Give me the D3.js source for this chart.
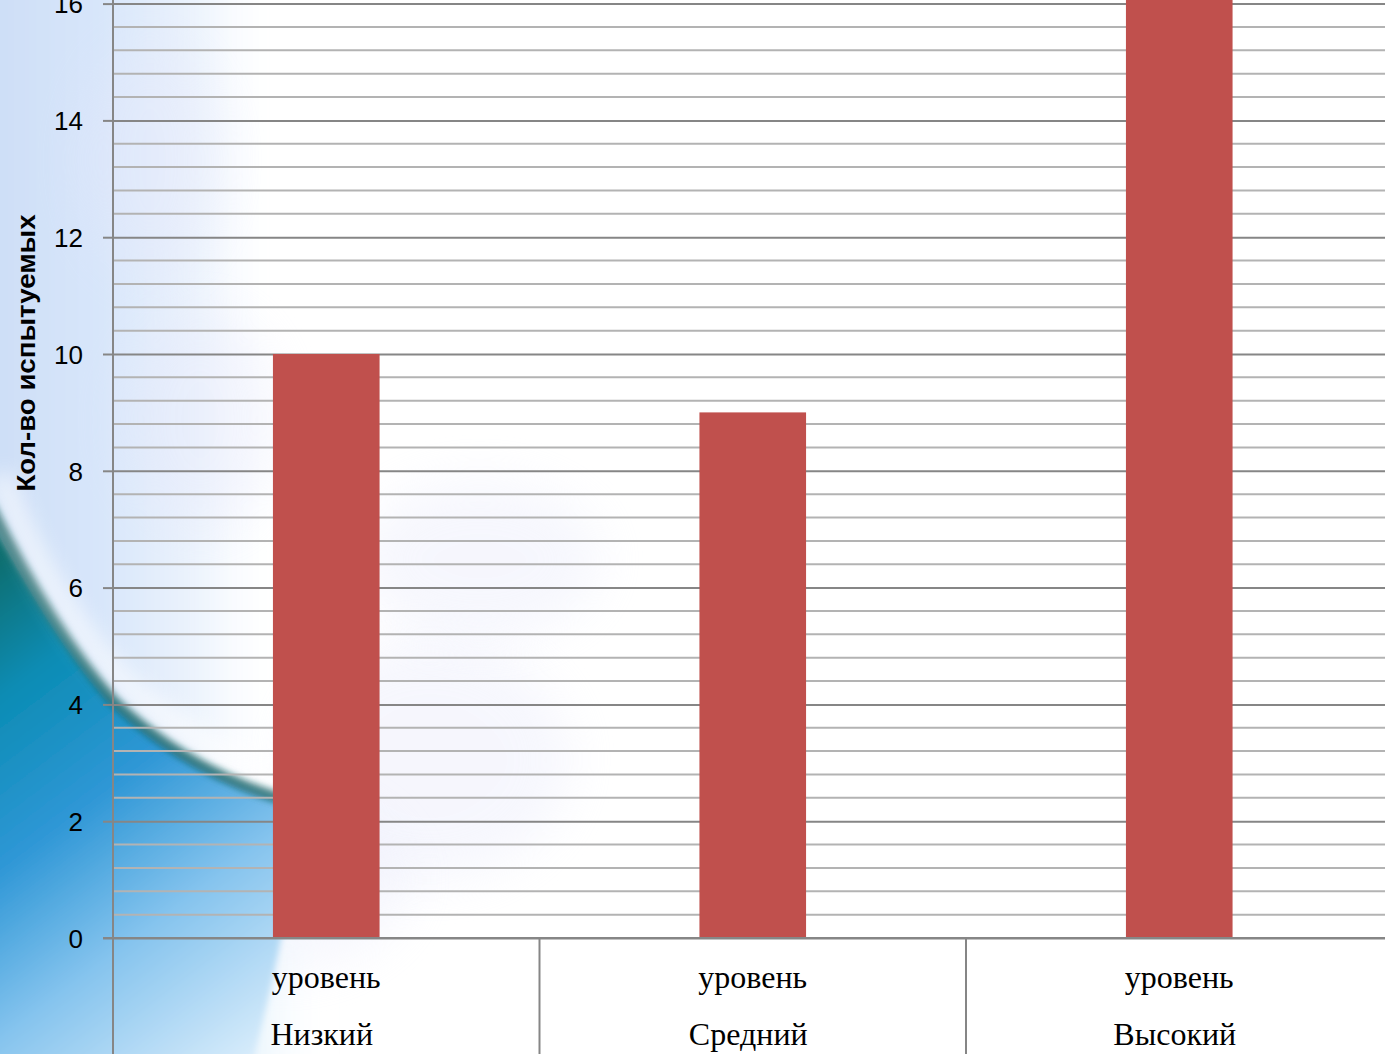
<!DOCTYPE html>
<html>
<head>
<meta charset="utf-8">
<script src="https://cdn.jsdelivr.net/npm/d3@7"></script>
<style>
  html, body { margin: 0; padding: 0; background: #ffffff; overflow: hidden; }
  svg { display: block; }
</style>
</head>
<body>
<script>
// Distribution of respondents by level
const categories = ["Низкий", "Средний", "Высокий"];
const categoryPrefix = ["уровень", "уровень", "уровень"];
const values = [10, 9, 17];
const tickValues = [0, 2, 4, 6, 8, 10, 12, 14, 16];
const axisTitle = "Кол-во испытуемых";

const W = 1385, H = 1054;
const svg = d3.select("body").append("svg").attr("width", W).attr("height", H);
const defs = svg.append("defs");

// ---- decorative backdrop ----
const blur = (id, s) => defs.append("filter").attr("id", id)
  .attr("x", "-50%").attr("y", "-50%").attr("width", "200%").attr("height", "200%")
  .append("feGaussianBlur").attr("stdDeviation", s);
blur("b3", 3); blur("b10", 10); blur("b25", 25);

const lg = (id, x1, y1, x2, y2, stops, units) => {
  const g = defs.append("linearGradient").attr("id", id)
    .attr("x1", x1).attr("y1", y1).attr("x2", x2).attr("y2", y2);
  if (units) g.attr("gradientUnits", units);
  stops.forEach(s => g.append("stop").attr("offset", s[0]).attr("stop-color", s[1]).attr("stop-opacity", s[2] ?? 1));
};
lg("haze", "0", "0", "1", "0", [[0, "#cadcf6"], [0.45, "#d8e6fa"], [0.75, "#edf4fd"], [1, "#ffffff", 0]]);
lg("sea", 0, 560, 330, 1000, [[0, "#0d6e70"], [0.2, "#0b8cb4"], [0.45, "#2f97d6"], [0.7, "#86c4ee"], [1, "#d8ecfb"]], "userSpaceOnUse");
lg("lowglow", "0", "0", "1", "0", [[0, "#9ccff2"], [0.6, "#c5e3f8"], [1, "#ffffff", 0]]);

const bg = svg.append("g");
bg.append("rect").attr("width", W).attr("height", H).attr("fill", "#ffffff");
bg.append("rect").attr("x", -40).attr("y", -40).attr("width", 320).attr("height", 1134)
  .attr("fill", "url(#haze)").attr("filter", "url(#b10)");
// faint lavender tints drifting through the plot
[[150, 160, 70, 120], [200, 420, 80, 110], [430, 760, 140, 120], [480, 560, 120, 80], [280, 880, 130, 90]]
  .forEach(([cx, cy, rx, ry]) => bg.append("ellipse").attr("cx", cx).attr("cy", cy).attr("rx", rx).attr("ry", ry)
    .attr("fill", "#e6e8fb").attr("opacity", 0.35).attr("filter", "url(#b25)"));
// pale band under the plot
bg.append("rect").attr("x", 0).attr("y", 935).attr("width", 330).attr("height", 140)
  .attr("fill", "url(#lowglow)").attr("filter", "url(#b10)");
// teal swoosh in the lower-left corner
bg.append("path")
  .attr("d", "M-20,500 C20,570 60,640 113,700 C160,745 215,778 290,800 C300,860 280,960 250,1070 L-20,1070 Z")
  .attr("fill", "url(#sea)").attr("filter", "url(#b3)");
bg.append("path")
  .attr("d", "M-10,505 C25,575 65,645 113,700 C160,745 215,778 280,798")
  .attr("fill", "none").attr("stroke", "#0b5a58").attr("stroke-width", 12).attr("opacity", 0.75)
  .attr("filter", "url(#b3)");
bg.append("path")
  .attr("d", "M0,475 C30,560 80,640 130,688 C180,733 240,768 320,788")
  .attr("fill", "none").attr("stroke", "#ffffff").attr("stroke-width", 24).attr("opacity", 0.6)
  .attr("filter", "url(#b10)");

// ---- scales ----
const y = d3.scaleLinear().domain([0, 16]).range([938, 3.6]);
const x = d3.scaleBand().domain(categories).range([113, 113 + 3 * 426.5]).padding(0);
const barW = x.bandwidth() * 0.25;

// ---- gridlines: minor every 0.4, major every 2 ----
const minor = d3.range(0, 18.01, 0.4).filter(v => Math.abs(v / 2 - Math.round(v / 2)) > 1e-6);
svg.append("g").selectAll("line").data(minor).join("line")
  .attr("x1", 113).attr("x2", W).attr("y1", d => y(d)).attr("y2", d => y(d))
  .attr("stroke", "#b3b3b3").attr("stroke-width", 2);

const yAxis = d3.axisLeft(y).tickValues(tickValues).tickSize(10).tickPadding(20);
const gy = svg.append("g").attr("transform", "translate(113,0)").call(yAxis);
gy.select(".domain").remove();
gy.selectAll(".tick line").attr("stroke", "#868686").attr("stroke-width", 2);
gy.selectAll(".tick").append("line").attr("x1", 0).attr("x2", W - 113)
  .attr("stroke", "#868686").attr("stroke-width", 2);
gy.selectAll(".tick text").attr("font-family", "'Liberation Sans', Arial, sans-serif")
  .attr("font-size", 26).attr("fill", "#000").attr("dy", "0.36em");

// ---- bars ----
svg.append("g").selectAll("rect").data(values).join("rect")
  .attr("x", (d, i) => x(categories[i]) + (x.bandwidth() - barW) / 2)
  .attr("width", barW)
  .attr("y", d => y(d))
  .attr("height", d => y(0) - y(d))
  .attr("fill", "#c0504d");

// ---- category axis ----
const axisG = svg.append("g");
axisG.append("line").attr("x1", 103).attr("x2", W).attr("y1", y(0)).attr("y2", y(0))
  .attr("stroke", "#868686").attr("stroke-width", 2);
axisG.append("line").attr("x1", 113).attr("x2", 113).attr("y1", 0).attr("y2", H)
  .attr("stroke", "#868686").attr("stroke-width", 2);
axisG.selectAll("line.div").data(categories.slice(1)).join("line").attr("class", "div")
  .attr("x1", d => x(d)).attr("x2", d => x(d)).attr("y1", y(0)).attr("y2", H)
  .attr("stroke", "#868686").attr("stroke-width", 2);

const labels = axisG.selectAll("g.lab").data(categories).join("g").attr("class", "lab")
  .attr("transform", d => `translate(${x(d) + x.bandwidth() / 2},0)`)
  .attr("font-family", "'Liberation Serif', 'Times New Roman', serif")
  .attr("font-size", 32).attr("fill", "#000").attr("text-anchor", "middle");
labels.append("text").attr("y", 988).text((d, i) => categoryPrefix[i]);
labels.append("text").attr("y", 1045).attr("dx", -4.5).text(d => d);

// ---- axis title ----
svg.append("text")
  .attr("transform", "translate(35,353) rotate(-90)")
  .attr("text-anchor", "middle")
  .attr("font-family", "'Liberation Sans', Arial, sans-serif")
  .attr("font-weight", "bold").attr("font-size", 26).attr("fill", "#000")
  .attr("textLength", 277).attr("lengthAdjust", "spacingAndGlyphs")
  .text(axisTitle);
</script>
</body>
</html>
